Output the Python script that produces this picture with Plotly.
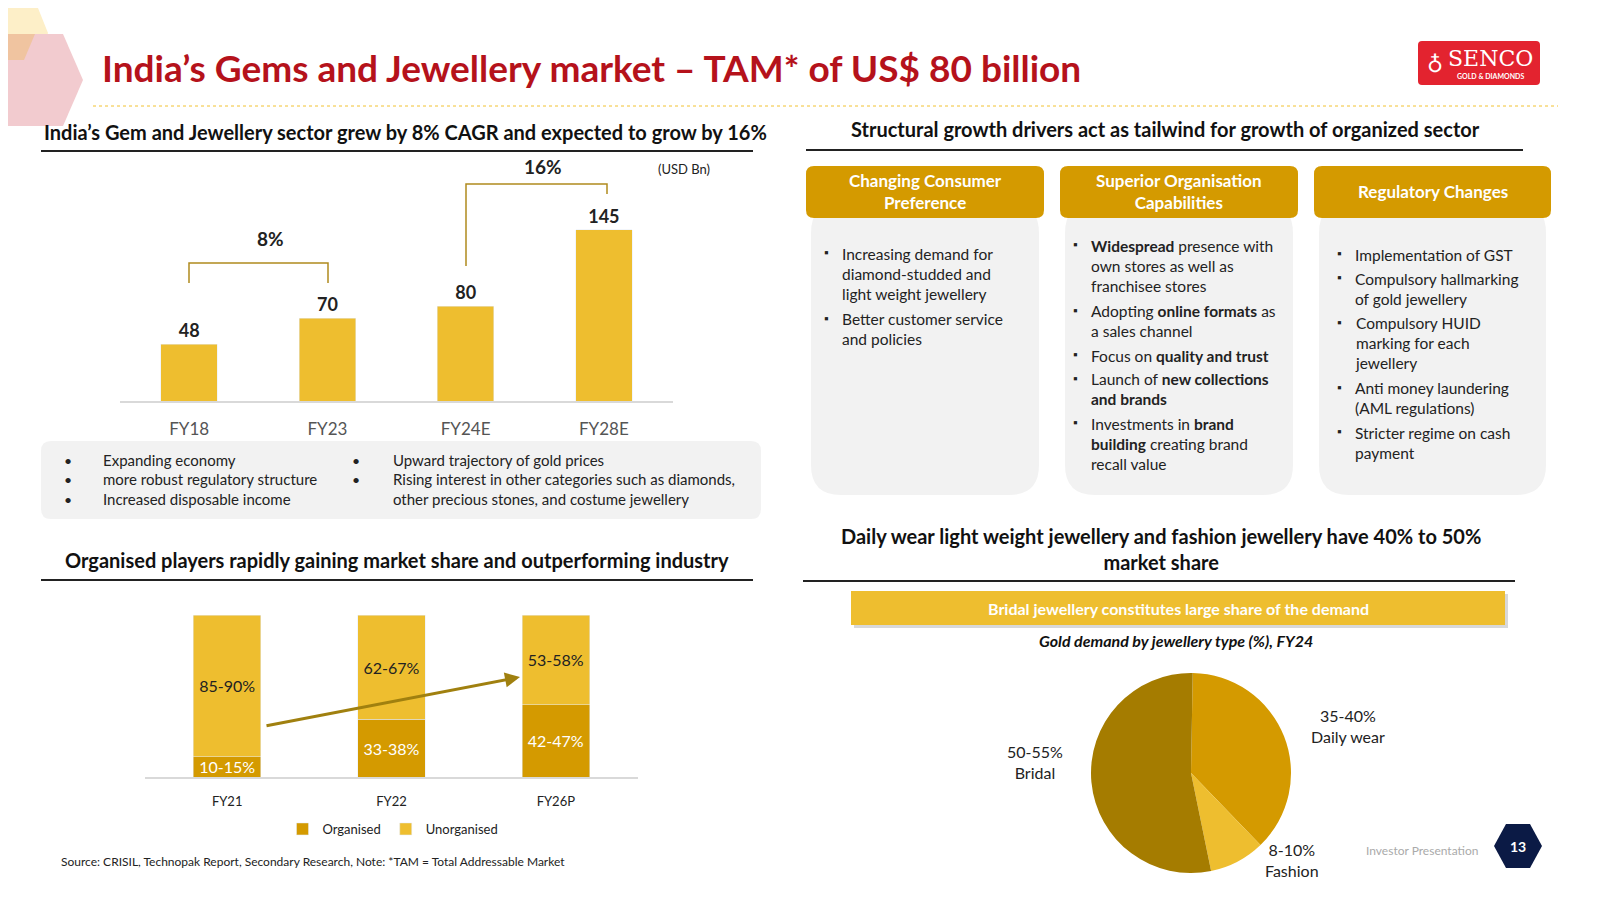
import plotly.graph_objects as go

# ---- data ----
tam_years = ["FY18", "FY23", "FY24E", "FY28E"]
tam_values = [48, 70, 80, 145]

share_years = ["FY21", "FY22", "FY26P"]
organised = [12.5, 35.5, 44.5]
unorganised = [87.5, 64.5, 55.5]
organised_lbl = ["10-15%", "33-38%", "42-47%"]
unorganised_lbl = ["85-90%", "62-67%", "53-58%"]

pie_labels = ["Daily wear", "Fashion", "Bridal"]
pie_values = [37.5, 9, 53.5]
pie_text = ["35-40%<br>Daily wear", "8-10%<br>Fashion", "50-55%<br>Bridal"]

FONT = "Lato"
GOLD = "#EEBE2F"
ORG = "#D49A00"
DARK = "#A57C00"
RED = "#B5121B"
W, H = 1600, 900


def px(x):
    return x / W


def py(y):
    return 1 - y / H


def rrect(x0, y0, x1, y1, r):
    # rounded rectangle path in paper coords (pixel input)
    X = lambda v: px(v)
    Y = lambda v: py(v)
    return (f"M {X(x0 + r)} {Y(y0)} L {X(x1 - r)} {Y(y0)} Q {X(x1)} {Y(y0)} {X(x1)} {Y(y0 + r)} "
            f"L {X(x1)} {Y(y1 - r)} Q {X(x1)} {Y(y1)} {X(x1 - r)} {Y(y1)} "
            f"L {X(x0 + r)} {Y(y1)} Q {X(x0)} {Y(y1)} {X(x0)} {Y(y1 - r)} "
            f"L {X(x0)} {Y(y0 + r)} Q {X(x0)} {Y(y0)} {X(x0 + r)} {Y(y0)} Z")


fig = go.Figure()

# top bar chart
fig.add_trace(go.Bar(x=tam_years, y=tam_values, marker_color=GOLD, width=0.41,
                     text=[f"<b>{v}</b>" for v in tam_values], textposition="outside",
                     textfont=dict(size=18, color="#222"), cliponaxis=False,
                     showlegend=False, xaxis="x", yaxis="y"))

# stacked share chart
fig.add_trace(go.Bar(x=share_years, y=organised, name="Organised", marker_color=ORG, width=0.41,
                     text=organised_lbl, textposition="inside", insidetextanchor="middle",
                     textfont=dict(size=16, color="white"), constraintext="none",
                     xaxis="x2", yaxis="y2"))
fig.add_trace(go.Bar(x=share_years, y=unorganised, name="Unorganised", marker_color=GOLD, width=0.41,
                     text=unorganised_lbl, textposition="inside", insidetextanchor="middle",
                     textfont=dict(size=16, color="#222"), xaxis="x2", yaxis="y2"))

# pie
fig.add_trace(go.Pie(labels=pie_labels, values=pie_values, sort=False, direction="clockwise",
                     rotation=1, marker=dict(colors=[ORG, GOLD, DARK]), textinfo="none",
                     showlegend=False, domain=dict(x=[px(1083), px(1283)], y=[py(865), py(665)])))

shapes = []
ann = []

# decorative hexagons top-left
shapes.append(dict(type="path", xref="paper", yref="paper", layer="below",
                   path=f"M {px(0)} {py(0)} L {px(30)} {py(0)} L {px(40)} {py(25)} L {px(30)} {py(50)} L {px(0)} {py(50)} Z",
                   fillcolor="#FDEFC8", line_width=0))
shapes.append(dict(type="path", xref="paper", yref="paper", layer="below",
                   path=f"M {px(0)} {py(26)} L {px(55)} {py(26)} L {px(75)} {py(72)} L {px(55)} {py(118)} L {px(0)} {py(118)} Z",
                   fillcolor="#F2CBCF", line_width=0))
shapes.append(dict(type="path", xref="paper", yref="paper", layer="below",
                   path=f"M {px(0)} {py(26)} L {px(27)} {py(26)} L {px(16)} {py(52)} L {px(0)} {py(52)} Z",
                   fillcolor="#F0C4A0", line_width=0))

# title
ann.append(dict(x=px(92), y=py(60), text="<b>India’s Gems and Jewellery market – TAM* of US$ 80 billion</b>",
                xanchor="left", font=dict(size=37, color=RED)))
shapes.append(dict(type="line", xref="paper", yref="paper", x0=px(85), x1=px(1550), y0=py(98), y1=py(98),
                   line=dict(color="#F2C230", width=1, dash="dot")))

# logo
shapes.append(dict(type="path", xref="paper", yref="paper", path=rrect(1410, 33, 1532, 77, 4),
                   fillcolor="#E3232F", line_width=0))
ann.append(dict(x=px(1482), y=py(50), text="SENCO", font=dict(size=22, color="white", family="DejaVu Serif")))
ann.append(dict(x=px(1482), y=py(68), text="<b>GOLD & DIAMONDS</b>", font=dict(size=7, color="white")))
ann.append(dict(x=px(1427), y=py(55), text="♁", font=dict(size=22, color="white")))

# section headings
heads = [
    (397, 124, "<b>India’s Gem and Jewellery sector grew by 8% CAGR and expected to grow by 16%</b>", 33, 745, 143),
    (1157, 121, "<b>Structural growth drivers act as tailwind for growth of organized sector</b>", 798, 1515, 142),
    (389, 552, "<b>Organised players rapidly gaining market share and outperforming industry</b>", 33, 745, 572),
    (1153, 541, "<b>Daily wear light weight jewellery and fashion jewellery have 40% to 50%<br>market share</b>", 795, 1507, 573),
]
for x, y, t, l0, l1, ly in heads:
    ann.append(dict(x=px(x), y=py(y), text=t, font=dict(size=20, color="#111")))
    shapes.append(dict(type="line", xref="paper", yref="paper", x0=px(l0), x1=px(l1), y0=py(ly), y1=py(ly),
                       line=dict(color="#222", width=2)))

# CAGR brackets
for pts, lbl, lx, ly in [([(181, 275), (181, 255), (320, 255), (320, 275)], "8%", 262, 231),
                         ([(458, 258), (458, 176), (599, 176), (599, 186)], "16%", 535, 159)]:
    path = "M " + " L ".join(f"{px(a)} {py(b)}" for a, b in pts)
    shapes.append(dict(type="path", xref="paper", yref="paper", path=path, line=dict(color="#B08A1E", width=1.5)))
    ann.append(dict(x=px(lx), y=py(ly), text=f"<b>{lbl}</b>", font=dict(size=19, color="#222")))
ann.append(dict(x=px(676), y=py(161), text="(USD Bn)", font=dict(size=13, color="#222")))

# bullet box
shapes.append(dict(type="path", xref="paper", yref="paper", path=rrect(33, 433, 753, 511, 10),
                   fillcolor="#F2F2F2", line_width=0, layer="below"))
for bx, tx, lines in [(60, 93, ["Expanding economy", "more robust regulatory structure", "Increased disposable income"]),
                      (348, 383, ["Upward trajectory of gold prices",
                                  "Rising interest in other categories such as diamonds,",
                                  "other precious stones, and costume jewellery"])]:
    for i, t in enumerate(lines):
        yy = 452 + i * 19.5
        if not (bx == 348 and i == 2):
            ann.append(dict(x=px(bx), y=py(yy), text="•", font=dict(size=14, color="#222")))
        ann.append(dict(x=px(tx), y=py(yy), text=t, xanchor="left", font=dict(size=15, color="#222")))

# driver cards
cards = [
    (798, 1036, "Changing Consumer<br>Preference", 832, 245,
     ["Increasing demand for<br>diamond-studded and<br>light weight jewellery",
      "Better customer service<br>and policies"]),
    (1052, 1290, "Superior Organisation<br>Capabilities", 1081, 237,
     ["<b>Widespread</b> presence with<br>own stores as well as<br>franchisee stores",
      "Adopting <b>online formats</b> as<br>a sales channel",
      "Focus on <b>quality and trust</b>",
      "Launch of <b>new collections<br>and brands</b>",
      "Investments in <b>brand<br>building</b> creating brand<br>recall value"]),
    (1306, 1543, "Regulatory Changes", 1345, 246,
     ["Implementation of GST",
      "Compulsory hallmarking<br>of gold jewellery",
      "Compulsory HUID<br>marking for each<br>jewellery",
      "Anti money laundering<br>(AML regulations)",
      "Stricter regime on cash<br>payment"]),
]
for x0, x1, head, tx, ty, bullets in cards:
    shapes.append(dict(type="path", xref="paper", yref="paper", path=rrect(x0 + 5, 195, x1 - 5, 487, 30),
                       fillcolor="#F2F2F2", line_width=0, layer="below"))
    shapes.append(dict(type="path", xref="paper", yref="paper", path=rrect(x0, 158, x1, 210, 8),
                       fillcolor=ORG, line_width=0))
    ann.append(dict(x=px((x0 + x1) / 2), y=py(183), text=f"<b>{head}</b>", font=dict(size=17, color="white")))
    yy = ty
    for b in bullets:
        n = b.count("<br>") + 1
        ann.append(dict(x=px(tx - 14), y=py(yy), text="▪", font=dict(size=12, color="#222")))
        ann.append(dict(x=px(tx), y=py(yy - 10), text=b, xanchor="left", yanchor="top", align="left",
                        font=dict(size=15.5, color="#222")))
        yy += n * 20.7 + 3

# bridal banner
shapes.append(dict(type="rect", xref="paper", yref="paper", x0=px(846), x1=px(1500), y0=py(620), y1=py(586),
                   fillcolor="#D8D8D8", line_width=0, layer="below"))
shapes.append(dict(type="rect", xref="paper", yref="paper", x0=px(843), x1=px(1497), y0=py(617), y1=py(583),
                   fillcolor=GOLD, line_width=0))
ann.append(dict(x=px(1170), y=py(600), text="<b>Bridal jewellery constitutes large share of the demand</b>",
                font=dict(size=16, color="white")))
ann.append(dict(x=px(1168), y=py(632), text="<b><i>Gold demand by jewellery type (%), FY24</i></b>",
                font=dict(size=16, color="#111")))

# pie labels
for (x, y), t in zip([(1340, 718), (1284, 852), (1027, 754)], pie_text):
    ann.append(dict(x=px(x), y=py(y), text=t, font=dict(size=16, color="#222")))

# share chart arrow (tail offset in pixels)
ann.append(dict(x=px(512), y=py(669), ax=257 - 512, ay=718 - 669,
                text="", showarrow=True, arrowhead=2, arrowsize=1,
                arrowwidth=3, arrowcolor="#A0800F"))

# footer
ann.append(dict(x=px(51), y=py(853), text="Source: CRISIL, Technopak Report, Secondary Research, Note: *TAM = Total Addressable Market",
                xanchor="left", font=dict(size=12, color="#222")))
ann.append(dict(x=px(1414), y=py(842), text="Investor Presentation", font=dict(size=12, color="#AAAAAA")))
shapes.append(dict(type="path", xref="paper", yref="paper",
                   path=f"M {px(1486)} {py(838)} L {px(1498)} {py(816)} L {px(1522)} {py(816)} L {px(1534)} {py(838)} "
                        f"L {px(1522)} {py(860)} L {px(1498)} {py(860)} Z",
                   fillcolor="#0B1A45", line_width=0))
ann.append(dict(x=px(1510), y=py(838), text="<b>13</b>", font=dict(size=14, color="white")))

for a in ann:
    a.setdefault("xref", "paper")
    a.setdefault("yref", "paper")
    a.setdefault("showarrow", False)
    a.setdefault("xanchor", "center")
    a.setdefault("yanchor", "middle")

fig.update_layout(
    width=W, height=H, margin=dict(l=0, r=0, t=0, b=0),
    paper_bgcolor="white", plot_bgcolor="white",
    font=dict(family=FONT, color="#222"),
    barmode="stack", bargap=0.59,
    xaxis=dict(domain=[px(112), px(665)], showline=True, linecolor="#D9D9D9", linewidth=1.5,
               tickfont=dict(size=17, color="#555"), ticks="outside", ticklen=12, tickcolor="white",
               showgrid=False),
    yaxis=dict(domain=[py(393), py(160)], range=[0, 197], visible=False),
    xaxis2=dict(domain=[px(137), px(630)], anchor="y2", showline=True, linecolor="#D9D9D9", linewidth=1.5,
                tickfont=dict(size=13, color="#222"), ticks="outside", ticklen=12, tickcolor="white",
                showgrid=False),
    yaxis2=dict(domain=[py(769), py(607)], range=[0, 100], visible=False),
    legend=dict(orientation="h", x=px(385), xanchor="center", y=py(821), yanchor="middle",
                font=dict(size=13), itemwidth=30, traceorder="normal"),
    shapes=shapes, annotations=ann,
)

fig.write_html("out.html")
